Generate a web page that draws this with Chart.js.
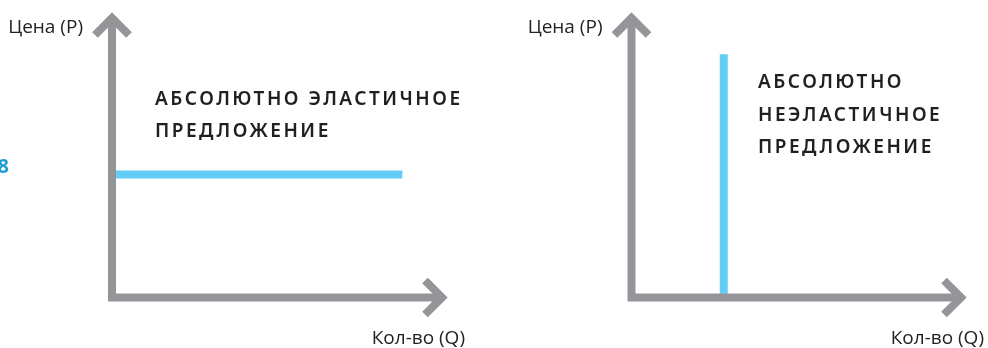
<!DOCTYPE html>
<html>
<head>
<meta charset="utf-8">
<script src="https://cdn.jsdelivr.net/npm/chart.js@4"></script>
<style>
  html, body { margin: 0; padding: 0; background: #fff; }
  #wrap { position: relative; width: 988px; height: 348px; }
  canvas { position: absolute; top: 0; }
</style>
</head>
<body>
<div id="wrap">
  <canvas id="elastic" width="494" height="348" style="left:0"></canvas>
  <canvas id="inelastic" width="494" height="348" style="left:494px"></canvas>
</div>
<script>
// axis labels
const priceLabel = 'Цена (P)';
const qtyLabel = 'Кол-во (Q)';

// notes
const elasticNote = ['АБСОЛЮТНО ЭЛАСТИЧНОЕ', 'ПРЕДЛОЖЕНИЕ'];
const inelasticNote = ['АБСОЛЮТНО', 'НЕЭЛАСТИЧНОЕ', 'ПРЕДЛОЖЕНИЕ'];

// supply lines (quantity, price), axes run 0..10
const elasticQ = [0, 8.8];
const elasticP = [4.4, 4.4];
const inelasticQ = [2.8, 2.8];
const inelasticP = [0, 8.7];

const axisMax = 10;
const grey = '#939598';
const blue = '#64CDF5';
const ink = '#231f20';

const axesPlugin = {
  id: 'arrowAxes',
  afterDatasetsDraw(chart, args, opts) {
    const { ctx, scales: { x, y } } = chart;
    const x0 = x.getPixelForValue(0);
    const y0 = y.getPixelForValue(0);
    const xt = x.getPixelForValue(axisMax);
    const yt = y.getPixelForValue(axisMax);
    const w = 17;

    ctx.save();
    ctx.strokeStyle = grey;
    ctx.lineWidth = 8;
    ctx.lineJoin = 'miter';
    ctx.lineCap = 'butt';

    ctx.beginPath();
    ctx.moveTo(x0, yt);
    ctx.lineTo(x0, y0);
    ctx.lineTo(xt, y0);
    ctx.stroke();

    // arrow heads
    ctx.beginPath();
    ctx.moveTo(x0 - w, yt + w);
    ctx.lineTo(x0, yt);
    ctx.lineTo(x0 + w, yt + w);
    ctx.stroke();

    ctx.beginPath();
    ctx.moveTo(xt - w, y0 - w);
    ctx.lineTo(xt, y0);
    ctx.lineTo(xt - w, y0 + w);
    ctx.stroke();

    // axis titles
    ctx.fillStyle = '#222';
    ctx.font = '19px "Open Sans"';
    ctx.textBaseline = 'alphabetic';
    ctx.textAlign = 'right';
    ctx.fillText(priceLabel, x0 - 29, yt + 15);
    ctx.fillText(qtyLabel, xt + 23, y0 + 46);

    // note
    ctx.fillStyle = ink;
    ctx.font = '600 19px "Noto Sans"';
    ctx.letterSpacing = '2.5px';
    ctx.textAlign = 'left';
    opts.note.forEach((line, i) => {
      ctx.fillText(line, x0 + opts.noteDx, yt + opts.noteDy + i * opts.lineGap);
    });
    ctx.letterSpacing = '0px';

    if (opts.pageMark) {
      ctx.fillStyle = '#1f9ad6';
      ctx.font = 'bold 20px "Open Sans"';
      ctx.textAlign = 'right';
      ctx.fillText(opts.pageMark, 9, 173);
    }
    ctx.restore();
  }
};

function makeChart(id, qs, ps, padding, noteOpts) {
  return new Chart(document.getElementById(id), {
    type: 'line',
    data: {
      datasets: [{
        data: qs.map((q, i) => ({ x: q, y: ps[i] })),
        borderColor: blue,
        borderWidth: 8,
        borderCapStyle: 'butt',
        pointRadius: 0,
        fill: false,
        tension: 0,
      }],
    },
    options: {
      responsive: false,
      animation: false,
      devicePixelRatio: 1,
      layout: { padding },
      scales: {
        x: { type: 'linear', min: 0, max: axisMax, display: false },
        y: { type: 'linear', min: 0, max: axisMax, display: false },
      },
      plugins: {
        legend: { display: false },
        tooltip: { enabled: false },
        arrowAxes: noteOpts,
      },
    },
    plugins: [axesPlugin],
  });
}

makeChart('elastic', elasticQ, elasticP,
  { left: 112, right: 52, top: 18, bottom: 50.5 },
  { note: elasticNote, noteDx: 43, noteDy: 87, lineGap: 32, pageMark: '8' });

makeChart('inelastic', inelasticQ, inelasticP,
  { left: 137.5, right: 27, top: 18, bottom: 50.5 },
  { note: inelasticNote, noteDx: 126.5, noteDy: 70, lineGap: 32.5 });
</script>
</body>
</html>
